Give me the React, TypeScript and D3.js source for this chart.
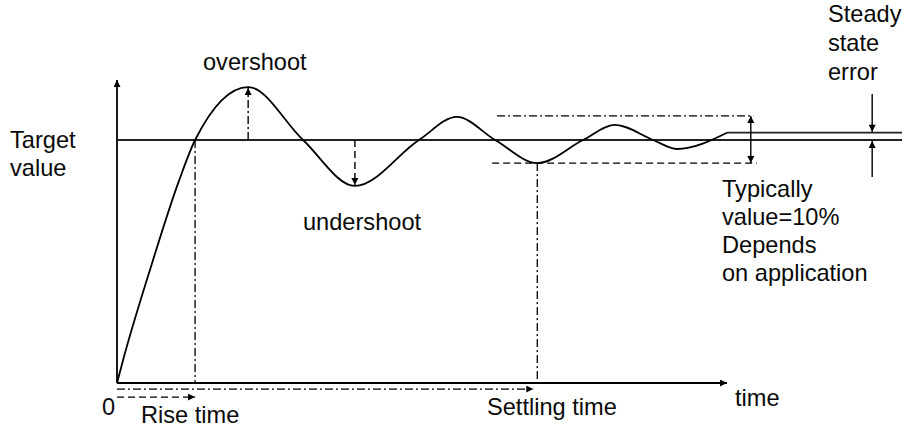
import React from 'react';
import * as d3 from 'd3';

// step response (time units, value relative to target = 1)
const times = [0, 1, 5.4, 10.2, 12.8, 21.5, 30.5, 39, 49.5, 55.7, 62, 68.9, 76.4, 81.6, 87.9, 91.8, 100];
const values = [0, 0.095, 0.465, 0.835, 1, 1.218, 1, 0.811, 1, 1.095, 1, 0.905, 1, 1.062, 1, 0.963, 1.03];

const targetValue = 1;
const steadyValue = 1.03;
const timeAxisEnd = 100;
const lineEnd = 128.7;
const valueAxisTop = 1.247;

const riseTime = 12.8;
const peakTime = 21.5;
const peakValue = 1.218;
const troughTime = 39;
const troughValue = 0.811;
const settlingTime = 68.9;

const bandUpper = 1.099;
const bandLower = 0.905;
const bandUpperSpan = [62.3, 104.3];
const bandLowerSpan = [61.5, 104.9];
const bandArrowTime = 103.9;

const errorArrowTime = 123.8;
const errorArrowOuter = [1.189, 0.848];

const riseArrowValue = -0.058;
const settleArrowValue = -0.025;

const targetLabel = ['Target', 'value'];
const steadyLabel = ['Steady', 'state', 'error'];
const bandLabel = ['Typically', 'value=10%', 'Depends', 'on application'];

const W = 908;
const H = 427;

const x = d3.scaleLinear().domain([0, 100]).range([117, 727]);
const y = d3.scaleLinear().domain([0, 1]).range([383, 140]);

const dashDot = '8 3 2 3';
const dashed = '7 4';
const font = '"Liberation Sans", Arial, sans-serif';

export default function App() {
  const pts: [number, number][] = times.map((t, i) => [t, values[i]]);
  const path = d3.line<[number, number]>()
    .x(d => x(d[0]))
    .y(d => y(d[1]))
    .curve(d3.curveMonotoneX)(pts) || '';

  const txt = (s: string, px: number, py: number, key?: string) => (
    <text key={key} x={px} y={py} fontFamily={font} fontSize={23.6} fill="#0a0a0a">{s}</text>
  );

  return (
    <svg width={W} height={H} style={{ position: 'absolute', left: 0, top: 0, background: '#fff' }}>
      <defs>
        <marker id="arr" viewBox="0 0 10 10" refX={10} refY={5} markerWidth={9} markerHeight={7}
          markerUnits="userSpaceOnUse" orient="auto-start-reverse">
          <path d="M0,0 L10,5 L0,10 z" fill="#000" />
        </marker>
      </defs>

      {/* axes */}
      <line x1={x(0)} x2={x(0)} y1={y(0)} y2={y(valueAxisTop)} stroke="#000" strokeWidth={1.8} markerEnd="url(#arr)" />
      <line x1={x(0)} x2={x(timeAxisEnd)} y1={y(0)} y2={y(0)} stroke="#000" strokeWidth={1.8} markerEnd="url(#arr)" />

      {/* target and steady state lines */}
      <line x1={x(0)} x2={x(lineEnd)} y1={y(targetValue)} y2={y(targetValue)} stroke="#222" strokeWidth={1.8} />
      <line x1={x(timeAxisEnd)} x2={x(lineEnd)} y1={y(steadyValue)} y2={y(steadyValue)} stroke="#222" strokeWidth={1.8} />

      {/* response */}
      <path d={path} fill="none" stroke="#000" strokeWidth={1.8} />

      {/* overshoot / undershoot */}
      <line x1={x(peakTime)} x2={x(peakTime)} y1={y(targetValue)} y2={y(peakValue) + 1} stroke="#000" strokeWidth={1.4}
        strokeDasharray={dashDot} markerEnd="url(#arr)" />
      <line x1={x(troughTime)} x2={x(troughTime)} y1={y(targetValue)} y2={y(troughValue) - 1} stroke="#000" strokeWidth={1.4}
        strokeDasharray={dashed} markerEnd="url(#arr)" />

      {/* rise time */}
      <line x1={x(riseTime)} x2={x(riseTime)} y1={y(targetValue)} y2={y(0)} stroke="#000" strokeWidth={1.3} strokeDasharray={dashDot} />
      <line x1={x(0)} x2={x(riseTime)} y1={y(riseArrowValue)} y2={y(riseArrowValue)} stroke="#000" strokeWidth={1.3}
        strokeDasharray={dashed} markerEnd="url(#arr)" />

      {/* settling time */}
      <line x1={x(settlingTime)} x2={x(settlingTime)} y1={y(bandLower)} y2={y(0)} stroke="#000" strokeWidth={1.3} strokeDasharray={dashDot} />
      <line x1={x(0)} x2={x(settlingTime) - 4} y1={y(settleArrowValue)} y2={y(settleArrowValue)} stroke="#000" strokeWidth={1.3}
        strokeDasharray={dashDot} markerEnd="url(#arr)" />

      {/* tolerance band */}
      <line x1={x(bandUpperSpan[0])} x2={x(bandUpperSpan[1])} y1={y(bandUpper)} y2={y(bandUpper)} stroke="#000" strokeWidth={1.3} strokeDasharray={dashDot} />
      <line x1={x(bandLowerSpan[0])} x2={x(bandLowerSpan[1])} y1={y(bandLower)} y2={y(bandLower)} stroke="#000" strokeWidth={1.3} strokeDasharray={dashed} />
      <line x1={x(bandArrowTime)} x2={x(bandArrowTime)} y1={y(bandUpper)} y2={y(bandLower)} stroke="#000" strokeWidth={1.4}
        markerStart="url(#arr)" markerEnd="url(#arr)" />

      {/* steady state error arrows */}
      <line x1={x(errorArrowTime)} x2={x(errorArrowTime)} y1={y(errorArrowOuter[0])} y2={y(steadyValue) - 1} stroke="#000" strokeWidth={1.4} markerEnd="url(#arr)" />
      <line x1={x(errorArrowTime)} x2={x(errorArrowTime)} y1={y(errorArrowOuter[1])} y2={y(targetValue) + 1} stroke="#000" strokeWidth={1.4} markerEnd="url(#arr)" />

      {/* labels */}
      {targetLabel.map((s, i) => txt(s, 10, 148 + i * 28, 't' + i))}
      {steadyLabel.map((s, i) => txt(s, 828, 22 + i * 29, 's' + i))}
      {bandLabel.map((s, i) => txt(s, 722, 197 + i * 28, 'b' + i))}
      {txt('overshoot', 203, 70)}
      {txt('undershoot', 303, 230)}
      {txt('0', 102, 415)}
      {txt('Rise time', 141, 423)}
      {txt('Settling time', 487, 415)}
      {txt('time', 735, 406)}
    </svg>
  );
}
